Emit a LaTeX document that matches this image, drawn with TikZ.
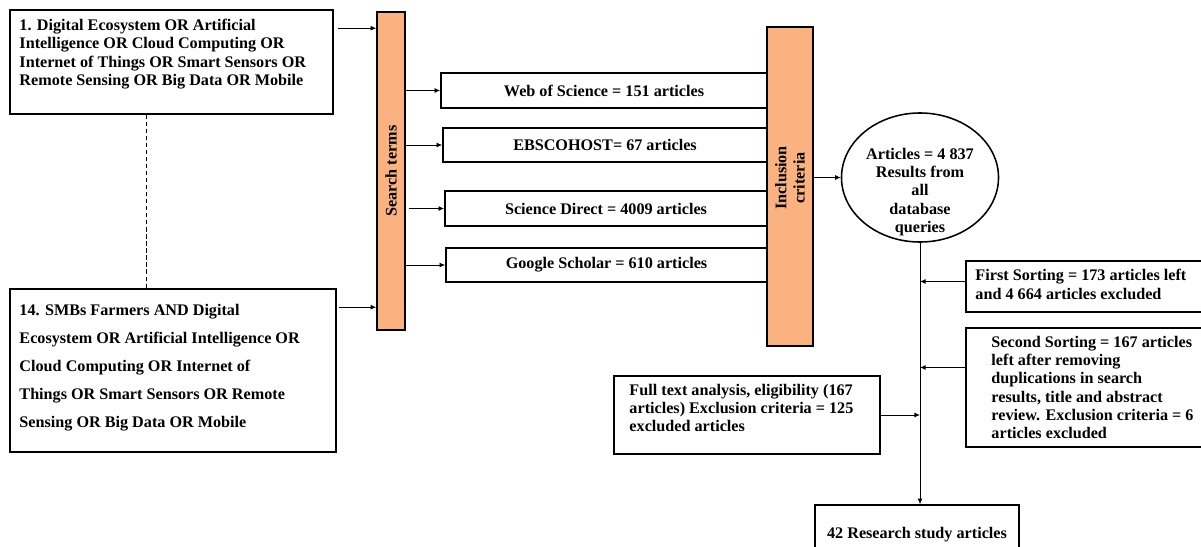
\documentclass[tikz,border=0pt]{standalone}
\usepackage{fontspec}
\setmainfont{Liberation Serif}
\usepackage{xcolor}
\usepackage{tikz}
\usetikzlibrary{arrows.meta, positioning, shapes.geometric}
\definecolor{barfill}{HTML}{FAB280}

\begin{document}
\begin{tikzpicture}[
    x=0.025cm, y=-0.025cm,
    every node/.style={font=\fontsize{11.5}{13}\selectfont\bfseries},
    box/.style={draw, line width=1.1pt, inner sep=0pt},
    bar/.style={draw, line width=1.1pt, fill=barfill, inner sep=0pt},
    txt/.style={align=left, inner sep=0pt},
    arr/.style={-{Latex[length=4pt,width=3.5pt]}, line width=0.6pt}
  ]
    \useasboundingbox (0,0) rectangle (1201,546);
    \clip (0,0) rectangle (1201,546);

    % search term groups
    \node[box, minimum width=8.075cm, minimum height=2.6cm] (q1) at (171.5,62) {};
    \node[txt, right=0.25cm of q1.west, yshift=0.2cm] (q1t)
      {1. Digital Ecosystem OR Artificial\\Intelligence OR Cloud Computing OR\\Internet of Things OR Smart Sensors OR\\Remote Sensing OR Big Data OR Mobile};
    \node[box, minimum width=8.15cm, minimum height=4.075cm] (q14) at (173,370.5) {};
    \node[txt, right=0.25cm of q14.west, yshift=0.075cm,
          font=\fontsize{11.5}{19.8}\selectfont\bfseries] (q14t)
      {14. SMBs Farmers AND Digital\\Ecosystem OR Artificial Intelligence OR\\Cloud Computing OR Internet of\\Things OR Smart Sensors OR Remote\\Sensing OR Big Data OR Mobile};

    % bars
    \node[bar, minimum width=0.7cm, minimum height=7.95cm] (search) at (391,171) {};
    \node[rotate=90] (searcht) at (search) {Search terms};
    \node[bar, minimum width=1.15cm, minimum height=7.975cm] (incl) at (790,186.5) {};
    \node[rotate=90, align=center] (inclt) at (790,178) {Inclusion\\criteria};

    % databases
    \node[box, minimum width=8.15cm, minimum height=0.875cm] (wos) at (604,90.5) {Web of Science = 151 articles};
    \node[box, minimum width=8.1cm, minimum height=0.85cm] (ebsco) at (605,145) {EBSCOHOST= 67 articles};
    \node[box, minimum width=8.05cm, minimum height=0.875cm] (sd) at (606,208.5) {Science Direct = 4009 articles};
    \node[box, minimum width=8.025cm, minimum height=0.85cm] (gs) at (606.5,265) {Google Scholar = 610 articles};

    % all results
    \node[box, ellipse, minimum width=3.925cm, minimum height=3.225cm] (all) at (920,177.5) {};
    \node[align=center, inner sep=0pt, yshift=-0.36cm] (allt) at (all)
      {Articles = 4 837\\Results from\\all\\database\\queries};

    % sorting steps
    \node[box, minimum width=6.6cm, minimum height=1.275cm] (first) at (1098,286.5) {};
    \node[txt, right=0.25cm of first.west, yshift=0.05cm] (firstt)
      {First Sorting = 173 articles left\\and 4 664 articles excluded};
    \node[box, minimum width=6.6cm, minimum height=2.975cm] (second) at (1098,387.5) {};
    \node[txt, right=0.65cm of second.west] (secondt)
      {Second Sorting = 167 articles\\left after removing\\duplications in search\\results, title and abstract\\review. Exclusion criteria = 6\\articles excluded};
    \node[box, minimum width=6.65cm, minimum height=1.95cm] (full) at (747,415) {};
    \node[txt, right=0.4cm of full.west, yshift=0.175cm] (fullt)
      {Full text analysis, eligibility (167\\articles) Exclusion criteria = 125\\excluded articles};
    \node[box, minimum width=5.1cm, minimum height=1.5cm] (res) at (917,535) {42 Research study articles};

    % connectors
    \coordinate (q1out) at ([xshift=0.1cm,yshift=-0.475cm]q1.north east);
    \coordinate (q14out) at ([xshift=0.05cm,yshift=-0.475cm]q14.north east);
    \draw[arr] (q1out) -- (q1out -| search.west);
    \draw[arr] (q14out) -- (q14out -| search.west);
    \draw[dash pattern=on 3pt off 2pt, line width=0.5pt]
      ([xshift=3.425cm]q1.south west) -- ([xshift=3.425cm]q1.south west |- q14.north);
    \draw[arr] (search.east |- wos.west) -- (wos.west);
    \draw[arr] (search.east |- ebsco.west) -- (ebsco.west);
    \draw[arr] ([xshift=0.075cm]search.east |- sd.west) -- (sd.west);
    \draw[arr] (search.east |- gs.west) -- (gs.west);
    \draw[arr] (incl.east |- all.west) -- (all.west);
    \draw[arr] (all.south) -- (all.south |- res.north);
    \draw[arr] ([yshift=0.125cm]first.west) -- ([yshift=0.125cm]first.west -| all.south);
    \draw[arr] ([yshift=0.5cm]second.west) -- ([yshift=0.5cm]second.west -| all.south);
    \draw[arr] (full.east) -- (full.east -| all.south);
  \end{tikzpicture}
\end{document}
